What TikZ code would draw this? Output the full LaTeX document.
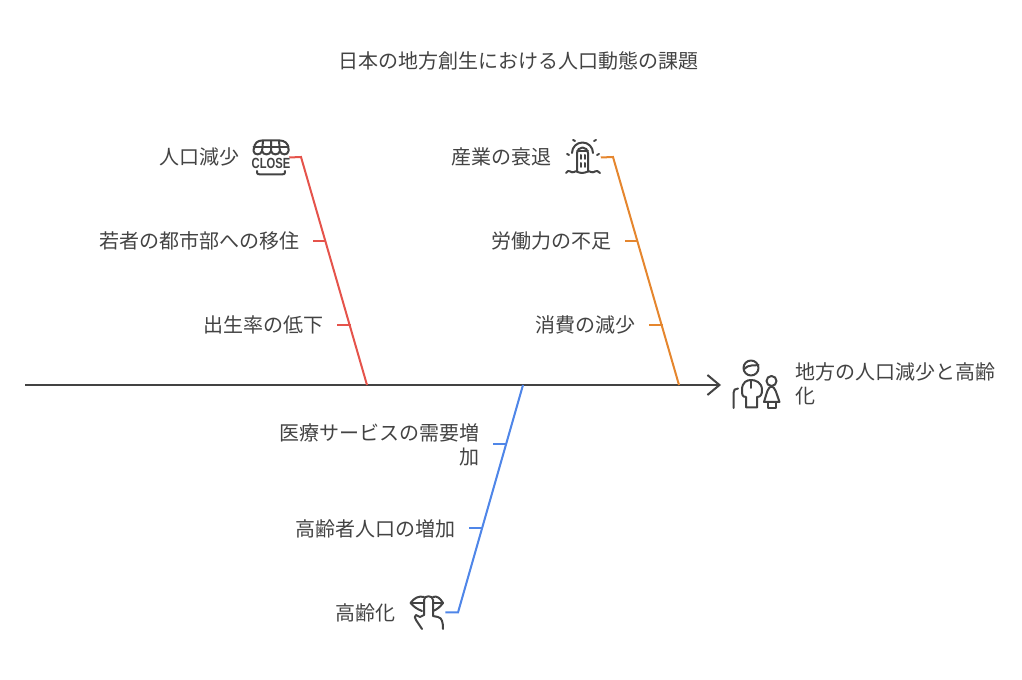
\documentclass[tikz,border=0pt]{standalone}
\usepackage{xcolor}
\usepackage{fontspec}
\setmainfont{Noto Sans CJK JP}
\newfontfamily\closefont{Liberation Sans}
\usetikzlibrary{positioning,calc}
\usetikzlibrary{arrows.meta}
\definecolor{inkgray}{HTML}{434343}
\definecolor{bonered}{HTML}{E5534B}
\definecolor{boneorange}{HTML}{E5862E}
\definecolor{boneblue}{HTML}{4F86E8}
\tikzstyle{label} = [inner sep=0pt,text=inkgray,font=\fontsize{15}{18}\selectfont,anchor=east,align=right]
\tikzstyle{iconbox} = [inner sep=0pt,minimum width=27pt,minimum height=27pt]
\tikzstyle{icon} = [draw=inkgray,line width=1.5pt,line cap=round,line join=round]
\tikzstyle{bone} = [line width=1.5pt]
\tikzstyle{spine} = [draw=inkgray,line width=1.5pt,-{Straight Barb[length=9pt,width=15pt,line width=1.5pt]}]

\begin{document}
\begin{tikzpicture}[x=0.75pt,y=-0.75pt]
        \useasboundingbox (0,0) rectangle (1022,680);
        \node[label,anchor=center] (title) at (518,60.5) {日本の地方創生における人口動態の課題};
        % spine
        \coordinate (tail) at (25,385);
        \node[iconbox] (people) at (757,385) {};
        \coordinate (head) at (721,385);
        \draw[spine] (tail) -- (head);
        \node[label,anchor=north west,align=left,text width=150pt] (effect) at (795.5,362.5) {地方の人口減少と高齢\\化};
        % red bone
        \node[label] (jinko) at (239.5,157) {人口減少};
        \node[iconbox] (closeicon) at (271,157.5) {};
        \node[label] (wakamono) at (299.5,241) {若者の都市部への移住};
        \node[label] (shussei) at (323.5,325) {出生率の低下};
        \coordinate (redknee) at (301,157);
        \coordinate (redfoot) at (367,385);
        \coordinate (redA) at (313,241);
        \coordinate (redAb) at (326,241);
        \coordinate (redB) at (337,325);
        \coordinate (redBb) at (350.5,325);
        \draw[bone,bonered] (closeicon.east) -- (redknee) -- (redfoot);
        \draw[bone,bonered] (redA) -- (redAb);
        \draw[bone,bonered] (redB) -- (redBb);
        % orange bone
        \node[label] (sangyo) at (552,157) {産業の衰退};
        \node[iconbox] (dooricon) at (582.5,157.5) {};
        \node[label] (rodo) at (611.5,241) {労働力の不足};
        \node[label] (shohi) at (635.5,325) {消費の減少};
        \coordinate (orangeknee) at (613,157);
        \coordinate (orangefoot) at (679,385);
        \coordinate (orangeA) at (625,241);
        \coordinate (orangeAb) at (638,241);
        \coordinate (orangeB) at (649,325);
        \coordinate (orangeBb) at (662.5,325);
        \draw[bone,boneorange] (dooricon.east) -- (orangeknee) -- (orangefoot);
        \draw[bone,boneorange] (orangeA) -- (orangeAb);
        \draw[bone,boneorange] (orangeB) -- (orangeBb);
        % blue bone
        \node[label] (iryo) at (479.5,445) {医療サービスの需要増\\加};
        \node[label] (koreisha) at (455.5,529) {高齢者人口の増加};
        \node[label] (korei) at (395.5,612.5) {高齢化};
        \node[iconbox] (lipicon) at (427,612.5) {};
        \coordinate (bluetop) at (523,385);
        \coordinate (blueknee) at (458,612.5);
        \coordinate (blueA) at (493,444.5);
        \coordinate (blueAb) at (506,444.5);
        \coordinate (blueB) at (469,528.5);
        \coordinate (blueBb) at (482.5,528.5);
        \draw[bone,boneblue] (bluetop) -- (blueknee) -- (lipicon.east);
        \draw[bone,boneblue] (blueA) -- (blueAb);
        \draw[bone,boneblue] (blueB) -- (blueBb);
        % close icon
        \draw[icon] (254,149) .. controls (254,143) and (258,140.5) .. (262,140.5) -- (280,140.5) .. controls (284,140.5) and (288.5,143) .. (288.5,149);
        \draw[icon] (253.5,147) -- (288.5,147);
        \draw[icon] (263,141) -- (262,152) (271,141) -- (271,152) (279,141) -- (280,152);
        \draw[icon] (253.5,149) -- (253.5,151) .. controls (254,155.5) and (261,155.5) .. (262,151) .. controls (263,155.5) and (270,155.5) .. (271,151) .. controls (272,155.5) and (279,155.5) .. (280,151) .. controls (281,155.5) and (288,155.5) .. (288.5,151) -- (288.5,149);
        \draw[icon] (257,171) .. controls (257,174.5) and (258,174.5) .. (261,174.5) -- (281,174.5) .. controls (284,174.5) and (285,174.5) .. (285,171);
        \node[inner sep=0pt,text=inkgray,xscale=0.8,yscale=1.05] (closetext) at (271,163.5) {\closefont\bfseries\fontsize{10.5}{11}\selectfont CLOSE};
        % door icon
        \draw[icon] (572,153) arc[start angle=180,end angle=360,radius=10.5];
        \draw[icon] (577,171) -- (577,153) arc[start angle=180,end angle=360,radius=5.5] -- (588,171);
        \draw[icon] (577,151) -- (588,151);
        \draw[icon] (581,155) -- (581,159) (581,163) -- (581,167) (584.5,155) -- (584.5,159) (584.5,163) -- (584.5,167);
        \draw[icon] (566,173) .. controls (569,168) and (571,174) .. (574,172) .. controls (576,170) and (578,173) .. (582,173) .. controls (586,173) and (589,170) .. (591,172) .. controls (594,174) and (596,168) .. (600,173);
        \draw[icon] (567,154) -- (569,155) (597,155) -- (599,154) (575,141) -- (573,140) (594,141) -- (596,140);
        % people icon
        \draw[icon] (751,368) circle (7.5);
        \draw[icon] (744,369) .. controls (749,364) and (754,366) .. (758.5,365);
        \draw[icon] (751,381) -- (751,388);
        \draw[icon] (746,407.5) -- (746,397) .. controls (742,397) and (742,394) .. (742,390) .. controls (742,382) and (747,380) .. (751,380) .. controls (755,380) and (762,382) .. (762,390) .. controls (762,394) and (761,397) .. (757,397) -- (757,407.5) -- (746,407.5);
        \draw[icon] (733.5,408) -- (733.5,393) .. controls (733.5,390) and (735,388.5) .. (738,388.5);
        \draw[icon] (771.5,381) circle (5);
        \draw[icon] (771.5,386.5) .. controls (768,387) and (767,392) .. (764,402) -- (779.5,402) .. controls (776,392) and (775,387) .. (771.5,386.5);
        \draw[icon] (767.5,402) -- (767.5,408) -- (775.5,408) -- (775.5,402);
        % lips icon
        \draw[icon] (410.5,603) .. controls (414,598) and (419,595.5) .. (424,597) (433,597) .. controls (437,595.5) and (440,598) .. (443,603) .. controls (440,607) and (437,609.5) .. (433,611);
        \draw[icon] (410.5,603) .. controls (414,607) and (417,609) .. (422,611);
        \draw[icon] (411,603) -- (423,603) (434,603) -- (443,603);
        \draw[icon] (424,615) -- (424,600) .. controls (424,595) and (433,595) .. (433,600) -- (433,616) -- (438,617) .. controls (442,618) and (443,622) .. (443,629);
        \draw[icon] (424,615) -- (420,617) -- (416,615) .. controls (414,616) and (415,618) .. (416,620) -- (422,629);
\end{tikzpicture}
\end{document}
